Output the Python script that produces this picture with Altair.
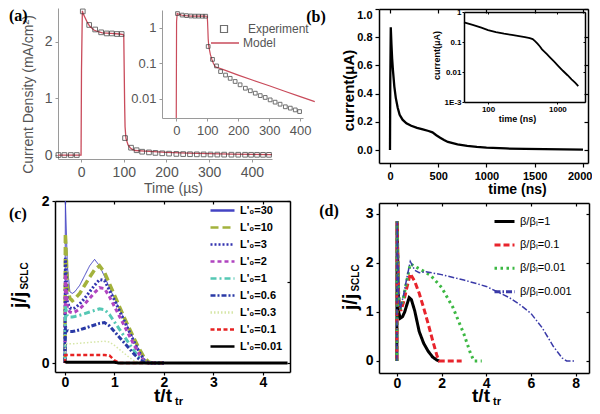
import altair as alt
import pandas as pd

W, H = 584, 398
SANS = "Liberation Sans"
SERIF = "Liberation Serif"
RED = "#c94b5b"
GRAY_T = "#555555"
GRAY_A = "#9a9a9a"

# ---------------- panel (a): transient current density
A_MODEL_T = [-54, -1, 0, 1, 3, 5, 10, 15, 20, 30, 40, 50, 70, 90, 99, 100, 101, 102, 103, 105,
             110, 115, 120, 126, 150, 200, 250, 300, 350, 400, 447]
A_MODEL_J = [0, 0, 0, 1.5, 2.55, 2.5, 2.42, 2.34, 2.28, 2.21, 2.18, 2.16, 2.15, 2.14, 2.13, 2.1,
             1.5, 0.9, 0.5, 0.3, 0.18, 0.13, 0.1, 0.08, 0.068, 0.047, 0.033, 0.0235, 0.0165, 0.0116, 0.0084]
A_EXP_T = [-53, -39, -24, -10, 4, 19, 33, 47, 60, 72, 84, 95, 103, 117, 130, 143, 159, 174, 190, 206,
           223, 239, 255, 271, 287, 303, 319, 335, 352, 368, 384, 398, 412, 426, 440]
A_EXP_J = [0, 0, 0, 0, 2.54, 2.3, 2.22, 2.17, 2.15, 2.15, 2.14, 2.14, 0.3, 0.13, 0.085, 0.059, 0.047,
           0.038, 0.031, 0.025, 0.02, 0.017, 0.0145, 0.0124, 0.011, 0.0094, 0.0081, 0.0071, 0.006,
           0.0055, 0.0049, 0.0044, 0.004, 0.0037, 0.0034]

# ---------------- panel (b): current vs time
B_T = [0, 3, 8, 15, 22, 30, 45, 60, 80, 100, 130, 170, 220, 280, 340, 400, 440, 480, 520, 560,
       600, 700, 800, 900, 1000, 1200, 1400, 1600, 1800, 2000]
B_I = [0, 0.5, 0.87, 0.75, 0.65, 0.57, 0.45, 0.37, 0.3, 0.25, 0.215, 0.19, 0.172, 0.157, 0.146,
       0.135, 0.125, 0.105, 0.087, 0.071, 0.057, 0.04, 0.029, 0.022, 0.017, 0.011, 0.0078, 0.0057,
       0.0044, 0.0034]

# ---------------- panel (c): j/jSCLC for several L'0
C_T = [0, 0.01, 0.05, 0.1, 0.15, 0.2, 0.3, 0.4, 0.5, 0.6, 0.7, 0.8, 0.9, 1.0, 1.1, 1.2, 1.3, 1.4,
       1.5, 1.6, 1.7, 1.8, 2.0]
C_J_30 = [0, 2.8, 1.2, 0.88, 0.86, 0.88, 0.96, 1.08, 1.2, 1.28, 1.2, 1.07, 0.93, 0.8, 0.67, 0.54,
          0.41, 0.28, 0.16, 0.05, 0, 0, 0]
C_J_10 = [0, 1.6, 0.95, 0.8, 0.77, 0.79, 0.86, 0.96, 1.06, 1.15, 1.2, 1.12, 0.98, 0.84, 0.7, 0.56,
          0.43, 0.3, 0.18, 0.07, 0.01, 0, 0]
C_J_3 = [0, 1.3, 0.75, 0.68, 0.67, 0.68, 0.73, 0.8, 0.88, 0.96, 1.03, 1.02, 0.9, 0.78, 0.65, 0.52,
         0.39, 0.26, 0.14, 0.04, 0, 0, 0]
C_J_2 = [0, 1.1, 0.68, 0.63, 0.62, 0.63, 0.67, 0.73, 0.8, 0.87, 0.93, 0.92, 0.82, 0.7, 0.58, 0.46,
         0.34, 0.22, 0.11, 0.02, 0, 0, 0]
C_J_1 = [0, 0.7, 0.58, 0.57, 0.57, 0.575, 0.59, 0.61, 0.63, 0.65, 0.67, 0.66, 0.6, 0.51, 0.42, 0.33,
         0.24, 0.15, 0.07, 0.01, 0, 0, 0]
C_J_06 = [0, 0.45, 0.4, 0.39, 0.39, 0.395, 0.41, 0.43, 0.45, 0.47, 0.49, 0.5, 0.46, 0.39, 0.32, 0.25,
          0.18, 0.11, 0.05, 0.01, 0, 0, 0]
C_J_03 = [0, 0.25, 0.24, 0.24, 0.24, 0.24, 0.245, 0.25, 0.255, 0.26, 0.265, 0.27, 0.26, 0.22, 0.17,
          0.12, 0.07, 0.03, 0.01, 0, 0, 0, 0]
C_J_01 = [0, 0.1, 0.1, 0.1, 0.1, 0.1, 0.1, 0.1, 0.1, 0.1, 0.1, 0.1, 0.095, 0.035, 0, 0, 0, 0, 0, 0,
          0, 0, 0]
C_T_001 = C_T + [4.5]
C_J_001 = [0, 0.01, 0.01, 0.01, 0.01, 0.01, 0.01, 0.01, 0.01, 0.01, 0.01, 0.01, 0.01, 0.01, 0, 0, 0,
           0, 0, 0, 0, 0, 0, 0]
C_NAMES = ["L'₀=30", "L'₀=10", "L'₀=3", "L'₀=2", "L'₀=1", "L'₀=0.6", "L'₀=0.3", "L'₀=0.1", "L'₀=0.01"]
C_COLORS = ["#4444c4", "#a3b23c", "#3333b0", "#b044c0", "#55c8b4", "#2a3aa6", "#d6e6a8", "#e62222", "#000000"]
C_DASHES = [[1, 0], [8, 4], [2, 2], [4, 3], [6, 3, 2, 3], [5, 2, 2, 2], [1.5, 2], [4, 2.5], [1, 0]]
C_WIDTHS = [1.0, 3.5, 3.0, 3.0, 3.0, 3.0, 1.5, 2.5, 3.0]

# ---------------- panel (d): j/jSCLC for several beta/beta_L
D_T_1 = [0, 0.01, 0.08, 0.15, 0.25, 0.35, 0.45, 0.55, 0.65, 0.8, 1.0, 1.2, 1.4, 1.6, 1.8, 1.9]
D_J_1 = [0, 2.85, 1.0, 0.87, 0.9, 1.0, 1.15, 1.29, 1.25, 1.02, 0.6, 0.36, 0.2, 0.08, 0.015, 0]
D_T_01 = [0, 0.01, 0.08, 0.18, 0.3, 0.45, 0.6, 0.8, 1.0, 1.2, 1.4, 1.6, 1.8, 1.9, 2.9]
D_J_01 = [0, 2.85, 1.3, 1.02, 1.2, 1.5, 1.78, 1.62, 1.38, 1.08, 0.76, 0.42, 0.1, 0, 0]
D_T_001 = [0, 0.01, 0.08, 0.15, 0.3, 0.45, 0.6, 0.8, 1.0, 1.5, 2.0, 2.5, 3.0, 3.3, 3.45, 3.8]
D_J_001 = [0, 2.85, 1.35, 1.05, 1.3, 1.65, 1.98, 1.93, 1.88, 1.75, 1.5, 1.1, 0.55, 0.15, 0, 0]
D_T_0001 = [0, 0.01, 0.08, 0.15, 0.3, 0.45, 0.6, 0.8, 1.0, 1.3, 2.0, 3.0, 4.0, 5.0, 5.5, 6.0, 6.5,
            7.0, 7.4, 7.6, 8.0]
D_J_0001 = [0, 2.85, 1.4, 1.05, 1.35, 1.7, 2.03, 1.85, 1.8, 1.82, 1.76, 1.65, 1.52, 1.3, 1.15, 0.97,
            0.68, 0.3, 0.06, 0, 0]
D_NAMES = ["β/βₗ=1", "β/βₗ=0.1", "β/βₗ=0.01", "β/βₗ=0.001"]
D_COLORS = ["#000000", "#e8242c", "#3cb843", "#3a3aa8"]
D_DASHES = [[1, 0], [6, 3], [2.5, 3.5], [6, 2, 1.5, 2]]
D_WIDTHS = [3.0, 3.0, 3.0, 1.5]

# ---------------- tables built from the arrays
df_am = pd.DataFrame({"t": A_MODEL_T, "j": A_MODEL_J, "kind": "Model"})
df_ae = pd.DataFrame({"t": A_EXP_T, "j": A_EXP_J, "kind": "Experiment"})
df_b = pd.DataFrame({"t": B_T, "i": B_I})

c_series = [C_J_30, C_J_10, C_J_3, C_J_2, C_J_1, C_J_06, C_J_03, C_J_01, C_J_001]
c_rows = []
for k, (name, vals) in enumerate(zip(C_NAMES, c_series)):
    ts = C_T_001 if name == C_NAMES[-1] else C_T
    for t, v in zip(ts, vals):
        c_rows.append({"t": t, "j": v, "series": name, "w": C_WIDTHS[k]})
df_c = pd.DataFrame(c_rows)

d_series = [(D_T_1, D_J_1), (D_T_01, D_J_01), (D_T_001, D_J_001), (D_T_0001, D_J_0001)]
d_rows = []
for k, (name, (ts, vals)) in enumerate(zip(D_NAMES, d_series)):
    for t, v in zip(ts, vals):
        d_rows.append({"t": t, "j": v, "series": name, "w": D_WIDTHS[k]})
df_d = pd.DataFrame(d_rows)

DUMMY = pd.DataFrame({"k": [0]})


# ---------------- helpers
def lin(domain, rng, clamp=False):
    return alt.Scale(type="linear", domain=domain, range=rng, nice=False, zero=False, clamp=clamp)


def logsc(domain, rng):
    return alt.Scale(type="log", domain=domain, range=rng, nice=False)


def axis(orient, pos, style, **kw):
    off = pos - H if orient == "bottom" else -pos
    d = dict(orient=orient, offset=off, grid=False)
    d.update(style)
    d.update(kw)
    return alt.Axis(**d)


def txt(s, x, y, size, angle=0, weight="bold", font=SANS, color="black", align="center"):
    return alt.Chart(DUMMY).mark_text(
        text=s, fontSize=size, angle=angle, fontWeight=weight, font=font,
        color=color, align=align, baseline="middle"
    ).encode(x=alt.value(x), y=alt.value(y))


AX_A = dict(domainColor=GRAY_A, tickColor=GRAY_A, labelColor=GRAY_T, labelFont=SANS, labelFontSize=14,
            tickSize=3, domainWidth=1, labelPadding=3, labelFlush=False,
            titleColor=GRAY_T, titleFont=SANS, titleFontSize=14, titleFontWeight="normal")
AX_B = dict(domainColor="black", tickColor="black", labelColor="black", labelFont=SANS, labelFontSize=11,
            labelFontWeight="bold", tickSize=4, domainWidth=1.5, tickWidth=1.2, labelPadding=3,
            titleColor="black", titleFont=SANS, titleFontSize=15, titleFontWeight="bold")
AX_BI = dict(domainColor="black", tickColor="black", labelColor="black", labelFont=SANS, labelFontSize=8,
             labelFontWeight="bold", tickSize=2, domainWidth=1.5, tickWidth=1, labelPadding=1,
             titleColor="black", titleFont=SANS, titleFontSize=9, titleFontWeight="bold")
AX_C = dict(domainColor="black", tickColor="black", labelColor="black", labelFont=SANS, labelFontSize=14,
            labelFontWeight="bold", tickSize=3, domainWidth=1.5, tickWidth=1.2, labelPadding=0,
            labelFlush=False)

layers = []

# ---------------- (a) main
SX_A = lin([-54, 447], [50, 264])
SY_A = lin([-0.07, 2.6], [151, 0])
layers.append(alt.Chart(df_am).mark_line(color=RED, strokeWidth=1.3).encode(
    x=alt.X("t:Q", scale=SX_A, title="Time (µs)",
            axis=axis("bottom", 151, AX_A, values=[0, 100, 200, 300, 400],
                      titleX=165, titleY=29, titleBaseline="middle", titleAlign="center")),
    y=alt.Y("j:Q", scale=SY_A, title="Current Density (mA/cm²)",
            axis=axis("left", 50, AX_A, values=[0, 1, 2], titleX=-30, titleY=86, titleAngle=270,
                      titleBaseline="middle", titleAlign="center")),
))
layers.append(alt.Chart(df_ae).mark_square(filled=False, size=22, color="#333333", strokeWidth=1).encode(
    x=alt.X("t:Q", scale=SX_A, axis=None),
    y=alt.Y("j:Q", scale=SY_A, axis=None),
))

# ---------------- (a) inset
SX_AI = lin([-46, 409], [154, 295])
SY_AI = logsc([0.0029, 3.2], [110, 2])
LEG_MOD = alt.Legend(orient="none", legendX=202, legendY=28, title=None, symbolType="stroke",
                     symbolSize=784, symbolStrokeWidth=1.3, labelFont=SANS, labelFontSize=12,
                     labelColor=GRAY_T, clipHeight=14, padding=0, labelOffset=3)
LEG_EXP = alt.Legend(orient="none", legendX=210, legendY=14, title=None, symbolType="square",
                     symbolSize=49, symbolStrokeWidth=1.2, labelFont=SANS, labelFontSize=12,
                     labelColor=GRAY_T, clipHeight=14, padding=0, labelOffset=18)
layers.append(alt.Chart(df_am).transform_filter("datum.t >= 0").transform_calculate(
    jl="max(datum.j, 0.0029)").mark_line(strokeWidth=1.2).encode(
    x=alt.X("t:Q", scale=SX_AI, title=None,
            axis=axis("bottom", 110, AX_A, values=[0, 100, 200, 300, 400], labelFontSize=13)),
    y=alt.Y("jl:Q", scale=SY_AI, title=None,
            axis=axis("left", 154, AX_A, values=[0.01, 0.1, 1], format="~g", labelFontSize=13)),
    color=alt.Color("kind:N", scale=alt.Scale(domain=["Model"], range=[RED]), legend=LEG_MOD),
))
layers.append(alt.Chart(df_ae).transform_filter("datum.t >= 0 && datum.t <= 405").mark_square(
    filled=False, size=14, strokeWidth=1).encode(
    x=alt.X("t:Q", scale=SX_AI, axis=None),
    y=alt.Y("j:Q", scale=SY_AI, axis=None),
    color=alt.Color("kind:N", scale=alt.Scale(domain=["Experiment"], range=["#333333"]), legend=LEG_EXP),
))

# ---------------- (b) main
SX_B = lin([-114, 2052], [371, 580])
SY_B = lin([-0.092, 1.0], [155, 1])
BX_VALS = [0, 500, 1000, 1500, 2000]
BY_VALS = [0, 0.2, 0.4, 0.6, 0.8, 1.0]
layers.append(alt.Chart(df_b).mark_line(color="black", strokeWidth=2.3).encode(
    x=alt.X("t:Q", scale=SX_B, title="time (ns)",
            axis=axis("bottom", 155, AX_B, values=BX_VALS, format="d", labelFlush=6,
                      labelFlushOffset=9, titleFontSize=14,
                      titleX=509, titleY=26, titleBaseline="middle", titleAlign="center")),
    y=alt.Y("i:Q", scale=SY_B, title="current(μA)",
            axis=axis("left", 371, AX_B, values=BY_VALS, format=".1f", labelFlush=True,
                      titleX=-31, titleY=82, titleAngle=270, titleBaseline="middle", titleAlign="center")),
))
layers.append(alt.Chart(df_b).mark_line(opacity=0).encode(
    x=alt.X("t:Q", scale=SX_B, title=None, axis=axis("bottom", 1, AX_B, values=BX_VALS, labels=False)),
    y=alt.Y("i:Q", scale=SY_B, title=None, axis=axis("left", 580, AX_B, values=BY_VALS, labels=False)),
))

# ---------------- (b) inset
SX_BI = logsc([45, 2500], [456, 577])
SY_BI = logsc([0.001, 1], [94, 4])
layers.append(alt.Chart(df_b).transform_filter("datum.t >= 45").mark_line(color="black", strokeWidth=1.8).encode(
    x=alt.X("t:Q", scale=SX_BI, title="time (ns)",
            axis=axis("bottom", 94, AX_BI, values=[100, 1000], format="d", labelFlush=False,
                      titleX=509, titleY=16, titleBaseline="middle", titleAlign="center")),
    y=alt.Y("i:Q", scale=SY_BI, title="current(μA)",
            axis=axis("left", 456, AX_BI, values=[0.001, 0.01, 0.1, 1], format="~g",
                      labelExpr="datum.value < 0.005 ? '1E-3' : datum.label",
                      titleX=-28, titleY=47, titleAngle=270, titleBaseline="middle", titleAlign="center")),
))
layers.append(alt.Chart(df_b).transform_filter("datum.t >= 45").mark_line(opacity=0).encode(
    x=alt.X("t:Q", scale=SX_BI, title=None, axis=axis("bottom", 4, AX_BI, values=[100, 1000], labels=False)),
    y=alt.Y("i:Q", scale=SY_BI, title=None,
            axis=axis("left", 577, AX_BI, values=[0.001, 0.01, 0.1, 1], labels=False)),
))

# ---------------- (c)
SX_C = lin([-0.2, 4.55], [47, 282])
SY_C = lin([-0.11, 2.0], [364, 193], clamp=True)
CX_VALS = [0, 1, 2, 3, 4]
CY_VALS = [0, 1, 2]
LEG_C = alt.Legend(orient="none", legendX=201, legendY=195, title=None, symbolType="stroke",
                   symbolSize=576, symbolStrokeWidth=2.5, labelFont=SANS, labelFontSize=11,
                   labelFontWeight="bold", labelColor="black", clipHeight=15, rowPadding=2,
                   padding=0, labelOffset=4)
layers.append(alt.Chart(df_c).mark_line().encode(
    x=alt.X("t:Q", scale=SX_C, title=None, axis=axis("bottom", 364, AX_C, values=CX_VALS, format="d")),
    y=alt.Y("j:Q", scale=SY_C, title=None,
            axis=axis("left", 47, AX_C, values=CY_VALS, format="d", labelPadding=3)),
    color=alt.Color("series:N", scale=alt.Scale(domain=C_NAMES, range=C_COLORS), legend=LEG_C),
    strokeDash=alt.StrokeDash("series:N", scale=alt.Scale(domain=C_NAMES, range=C_DASHES), legend=LEG_C),
    strokeWidth=alt.StrokeWidth("w:Q", scale=None, legend=None),
))
layers.append(alt.Chart(df_c).mark_line(opacity=0).encode(
    x=alt.X("t:Q", scale=SX_C, title=None, axis=axis("bottom", 193, AX_C, values=CX_VALS, labels=False)),
    y=alt.Y("j:Q", scale=SY_C, title=None, axis=axis("left", 282, AX_C, values=CY_VALS, labels=False)),
))

# ---------------- (d)
SX_D = lin([-0.8, 8.6], [371, 581])
SY_D = lin([-0.245, 3.22], [365, 195])
DX_VALS = [0, 2, 4, 6, 8]
DY_VALS = [0, 1, 2, 3]
LEG_D = alt.Legend(orient="none", legendX=485, legendY=203, title=None, symbolType="stroke",
                   symbolSize=400, symbolStrokeWidth=3, labelFont=SANS, labelFontSize=11,
                   labelColor="black", clipHeight=21, rowPadding=2.4, padding=0, labelOffset=4)
layers.append(alt.Chart(df_d).mark_line().encode(
    x=alt.X("t:Q", scale=SX_D, title=None, axis=axis("bottom", 365, AX_C, values=DX_VALS, format="d")),
    y=alt.Y("j:Q", scale=SY_D, title=None,
            axis=axis("left", 371, AX_C, values=DY_VALS, format="d", labelPadding=3)),
    color=alt.Color("series:N", scale=alt.Scale(domain=D_NAMES, range=D_COLORS), legend=LEG_D),
    strokeDash=alt.StrokeDash("series:N", scale=alt.Scale(domain=D_NAMES, range=D_DASHES), legend=LEG_D),
    strokeWidth=alt.StrokeWidth("w:Q", scale=None, legend=None),
))
layers.append(alt.Chart(df_d).mark_line(opacity=0).encode(
    x=alt.X("t:Q", scale=SX_D, title=None, axis=axis("bottom", 195, AX_C, values=DX_VALS, labels=False)),
    y=alt.Y("j:Q", scale=SY_D, title=None, axis=axis("left", 581, AX_C, values=DY_VALS, labels=False)),
))

# ---------------- axis titles with subscripts, and panel letters
layers += [
    txt("j/j", 12, 292, 20, angle=270),
    txt("SCLC", 17, 268, 10, angle=270),
    txt("t/t", 155, 388, 19),
    txt("tr", 171, 394, 11),
    txt("j/j", 343, 294, 20, angle=270),
    txt("SCLC", 348, 270, 10, angle=270),
    txt("t/t", 473, 388, 19),
    txt("tr", 489, 394, 11),
    txt("(a)", 1, 8, 16, font=SERIF, align="left"),
    txt("(b)", 308, 9, 16, font=SERIF),
    txt("(c)", 1, 206, 16, font=SERIF, align="left"),
    txt("(d)", 321, 203, 16, font=SERIF),
]

chart = alt.layer(*layers).resolve_scale(
    x="independent", y="independent", color="independent", strokeDash="independent"
).resolve_axis(x="independent", y="independent").properties(
    width=W, height=H, padding=0, autosize=alt.AutoSizeParams(type="none")
).configure_view(stroke=None)

chart.save("out.html", embed_options={"renderer": "svg", "actions": False})
